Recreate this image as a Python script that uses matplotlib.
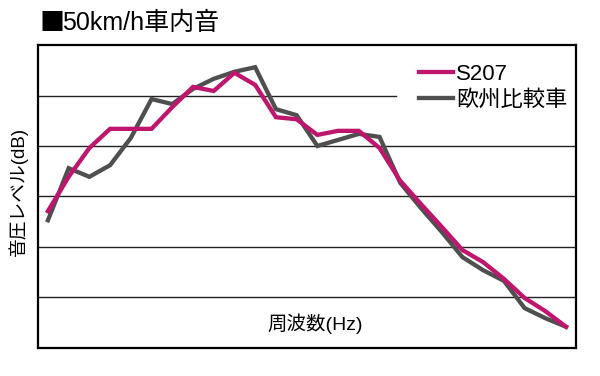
import numpy as np
import matplotlib
matplotlib.use("Agg")
import matplotlib.pyplot as plt

plt.rcParams['font.family'] = ['Liberation Sans', 'Noto Sans CJK JP', 'DejaVu Sans']

# data (arbitrary dB units, 1 grid step = 1)
bands = np.arange(26)
s207 = [2.71, 3.39, 3.96, 4.34, 4.34, 4.34, 4.77, 5.17, 5.09, 5.45,
        5.21, 4.57, 4.53, 4.22, 4.30, 4.30, 3.96, 3.31, 2.85, 2.40,
        1.94, 1.70, 1.37, 0.99, 0.73, 0.42]
euro = [2.53, 3.56, 3.39, 3.62, 4.16, 4.93, 4.83, 5.13, 5.33, 5.47,
        5.56, 4.73, 4.61, 4.00, 4.12, 4.24, 4.18, 3.27, 2.77, 2.30,
        1.80, 1.54, 1.33, 0.79, 0.59, 0.42]
grid_levels = [1, 2, 3, 4, 5]
names = ['S207', '欧州比較車']

pink = '#c0156c'
gray = '#4f4f4f'

fig = plt.figure(figsize=(6, 3.76), dpi=100)
ax = fig.add_axes([0.0633, 0.0745, 0.8967, 0.8058])

#grid lines, the top one stops at the legend
for g in grid_levels:
    if g == grid_levels[-1]:
        ax.axhline(g, xmax=0.665, color='#222222', lw=1.0, zorder=1)
    else:
        ax.axhline(g, color='#222222', lw=1.0, zorder=1)

ax.plot(bands, s207, color=pink, lw=3.1, label=names[0], zorder=3,
        solid_joinstyle='miter')
ax.plot(bands, euro, color=gray, lw=3.1, label=names[1], zorder=2,
        solid_joinstyle='miter')

ax.set_xlim(-0.48, 25.48)
ax.set_ylim(0, 6)
ax.set_xticks([])
ax.set_yticks([])
for sp in ax.spines.values():
    sp.set_linewidth(1.6)
    sp.set_color('black')

ax.legend(loc='upper left', bbox_to_anchor=(0.68, 0.99), frameon=False,
          fontsize=16, handlelength=1.5, handletextpad=0.15,
          labelspacing=0.22, borderpad=0.2)

ax.text(0.515, 0.045, '周波数(Hz)', transform=ax.transAxes, fontsize=14,
        ha='center', va='bottom')
fig.text(0.03, 0.49, '音圧レベル(dB)', rotation=90, fontsize=13.5,
         ha='center', va='center')
#title: square from the CJK font, rest in the latin one
fig.text(0.066, 0.94, '■', fontsize=18, ha='left', va='center',
         family=['Noto Sans CJK JP'])
fig.text(0.104, 0.94, '50km/h車内音', fontsize=18, ha='left', va='center')

fig.savefig('out.png', dpi=100)
